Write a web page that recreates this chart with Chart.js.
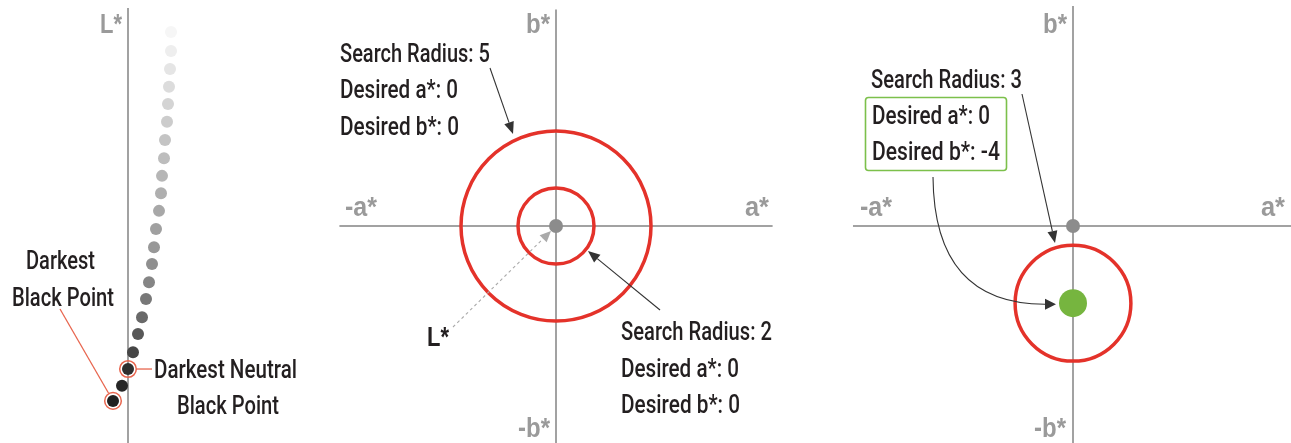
<!DOCTYPE html>
<html><head><meta charset="utf-8">
<script src="https://cdn.jsdelivr.net/npm/chart.js@4/dist/chart.umd.min.js"></script>
<style>html,body{margin:0;padding:0;background:#fff;overflow:hidden}canvas{display:block}</style>
</head><body>
<canvas id="c" width="1291" height="443"></canvas>
<script>
// ---------- DATA ----------
// Panel 1: L* ramp of black points (a* offset, L* value, gray level)
const rampA = [4.3, 4.3, 4.2, 4.1, 4.0, 3.9, 3.7, 3.6, 3.4, 3.3, 3.1, 2.8, 2.6, 2.4, 2.1, 1.8, 1.4, 1.0, 0.5, 0.0, -0.6, -1.5];
const rampL = [92.8, 88.5, 84.4, 80.4, 76.5, 72.5, 68.4, 64.3, 60.3, 56.4, 52.4, 48.3, 44.2, 40.4, 36.3, 32.5, 28.4, 24.6, 20.5, 16.7, 12.9, 9.5];
const rampGray = [246, 238, 229, 220, 212, 204, 196, 189, 182, 175, 168, 160, 152, 143, 133, 120, 105, 88, 70, 46, 38, 32];
const highlightIdx = [21, 19];           // darkest black point, darkest neutral black point
const lAxisMax = 98.2;
// Panel 2: two search radii around desired a*, b*
const p2Radius = [5, 2];
const p2DesiredA = [0, 0];
const p2DesiredB = [0, 0];
// Panel 3: one search radius around desired a*, b*
const p3Radius = [3];
const p3DesiredA = [0];
const p3DesiredB = [-4];
const abAxisLimit = 11.4;

// ---------- layout helpers (pixel placement of panels) ----------
const W = 1291, H = 443;
function range(originPx, ppu, size, invert) {
  return invert ? { min: -(size - originPx) / ppu, max: originPx / ppu }
                : { min: -originPx / ppu, max: (size - originPx) / ppu };
}
const xL = range(128, 10, W), yL = { min: 0, max: 100 };
const x2 = range(556, 19, W), y2 = range(226, 19, H, true);
const x3 = range(1073, 19.3, W), y3 = range(226, 19.3, H, true);

const AXIS = '#a2a2a2', RED = '#e4322a', RING = '#e8664f', TXT = '#231f20', LBL = '#9a9a9a';

function circleRadius(c) {
  if (!c.raw || c.raw.r === undefined) return 0;
  const s = c.chart.scales[c.dataset.xAxisID];
  return Math.abs(s.getPixelForValue(c.raw.r) - s.getPixelForValue(0));
}
function axisLine(data, xa, ya) {
  return { data, xAxisID: xa, yAxisID: ya, showLine: true, borderColor: AXIS, borderWidth: 2, pointRadius: 0 };
}

const datasets = [
  // rings around highlighted points
  { data: highlightIdx.map(i => ({ x: rampA[i], y: rampL[i] })), xAxisID: 'xL', yAxisID: 'yL',
    pointRadius: 8.3, pointBorderWidth: 1.5, pointBorderColor: RING, pointBackgroundColor: 'rgba(0,0,0,0)' },
  // ramp dots
  { data: rampA.map((a, i) => ({ x: a, y: rampL[i] })), xAxisID: 'xL', yAxisID: 'yL',
    pointRadius: 6, pointBorderWidth: 0,
    pointBackgroundColor: rampGray.map(g => `rgb(${g},${g},${g})`) },
  // panel 3 desired point
  { data: p3DesiredA.map((a, i) => ({ x: a, y: p3DesiredB[i] })), xAxisID: 'x3', yAxisID: 'y3',
    pointRadius: 14, pointBorderWidth: 0, pointBackgroundColor: '#76b53f' },
  // origin dots
  { data: [{ x: 0, y: 0 }], xAxisID: 'x2', yAxisID: 'y2', pointRadius: 7, pointBorderWidth: 0, pointBackgroundColor: '#8c8c8c' },
  { data: [{ x: 0, y: 0 }], xAxisID: 'x3', yAxisID: 'y3', pointRadius: 7, pointBorderWidth: 0, pointBackgroundColor: '#8c8c8c' },
  // search radius circles
  { data: p2Radius.map((r, i) => ({ x: p2DesiredA[i], y: p2DesiredB[i], r })), xAxisID: 'x2', yAxisID: 'y2',
    pointRadius: circleRadius, pointBorderWidth: 3.5, pointBorderColor: RED, pointBackgroundColor: 'rgba(0,0,0,0)' },
  { data: p3Radius.map((r, i) => ({ x: p3DesiredA[i], y: p3DesiredB[i], r })), xAxisID: 'x3', yAxisID: 'y3',
    pointRadius: circleRadius, pointBorderWidth: 3.5, pointBorderColor: RED, pointBackgroundColor: 'rgba(0,0,0,0)' },
  // axes
  axisLine([{ x: 0, y: 0 }, { x: 0, y: lAxisMax }], 'xL', 'yL'),
  axisLine([{ x: -abAxisLimit, y: 0 }, { x: abAxisLimit, y: 0 }], 'x2', 'y2'),
  axisLine([{ x: 0, y: -abAxisLimit - 1 }, { x: 0, y: abAxisLimit }], 'x2', 'y2'),
  axisLine([{ x: -abAxisLimit, y: 0 }, { x: abAxisLimit + 1, y: 0 }], 'x3', 'y3'),
  axisLine([{ x: 0, y: -abAxisLimit - 1 }, { x: 0, y: abAxisLimit }], 'x3', 'y3'),
];

// ---------- drawing helpers for annotations ----------
const FONT = 'Roboto, "Liberation Sans", sans-serif';
const BFONT = '"Liberation Sans Narrow", "Liberation Sans", sans-serif';
function txt(ctx, s, x, y, w, size, weight, color, fam) {
  ctx.save();
  ctx.font = `${weight} ${size}px ${fam || FONT}`;
  const m = ctx.measureText(s).width;
  ctx.translate(x, y);
  ctx.scale(w / m, 1);
  ctx.fillStyle = color; ctx.textAlign = 'left'; ctx.textBaseline = 'alphabetic';
  ctx.fillText(s, 0, 0);
  ctx.restore();
}
function head(ctx, bx, by, tx, ty, wid, color) {
  const ang = Math.atan2(ty - by, tx - bx), px = -Math.sin(ang) * wid / 2, py = Math.cos(ang) * wid / 2;
  ctx.fillStyle = color;
  ctx.beginPath(); ctx.moveTo(tx, ty); ctx.lineTo(bx + px, by + py); ctx.lineTo(bx - px, by - py); ctx.closePath(); ctx.fill();
}
function arrow(ctx, x1, y1, x2, y2, color, len, wid, dash) {
  const ang = Math.atan2(y2 - y1, x2 - x1), bx = x2 - len * Math.cos(ang), by = y2 - len * Math.sin(ang);
  ctx.save();
  ctx.strokeStyle = color; ctx.lineWidth = 1.1;
  if (dash) ctx.setLineDash(dash);
  ctx.beginPath(); ctx.moveTo(x1, y1); ctx.lineTo(bx, by); ctx.stroke();
  ctx.setLineDash([]);
  head(ctx, bx, by, x2, y2, wid, color);
  ctx.restore();
}

const TS = 26, TW = 500;
const annotations = {
  id: 'annotations',
  afterDatasetsDraw(chart) {
    const ctx = chart.ctx, s = chart.scales;
    // axis labels
    txt(ctx, 'L*', 100, 33, 22, 28, 'bold', LBL, BFONT);
    txt(ctx, 'b*', 526, 33, 24, 27, 'bold', LBL, BFONT);
    txt(ctx, '-a*', 345, 216, 32, 27, 'bold', LBL, BFONT);
    txt(ctx, 'a*', 745, 216, 24, 27, 'bold', LBL, BFONT);
    txt(ctx, '-b*', 518, 437, 32, 27, 'bold', LBL, BFONT);
    txt(ctx, 'b*', 1043, 33, 24, 27, 'bold', LBL, BFONT);
    txt(ctx, '-a*', 860, 216, 32, 27, 'bold', LBL, BFONT);
    txt(ctx, 'a*', 1261, 216, 24, 27, 'bold', LBL, BFONT);
    txt(ctx, '-b*', 1034, 437, 32, 27, 'bold', LBL, BFONT);

    // panel 1 labels and leaders
    txt(ctx, 'Darkest', 26, 269, 69, TS, TW, TXT);
    txt(ctx, 'Black Point', 12, 306, 102, TS, TW, TXT);
    txt(ctx, 'Darkest Neutral', 154, 378, 143, TS, TW, TXT);
    txt(ctx, 'Black Point', 177, 414, 102, TS, TW, TXT);
    const d0 = highlightIdx[0], d1 = highlightIdx[1];
    const p0x = s.xL.getPixelForValue(rampA[d0]), p0y = s.yL.getPixelForValue(rampL[d0]);
    const p1x = s.xL.getPixelForValue(rampA[d1]), p1y = s.yL.getPixelForValue(rampL[d1]);
    ctx.save();
    ctx.strokeStyle = RING; ctx.lineWidth = 1.3;
    const sx = 60, sy = 309, dd = Math.hypot(p0x - sx, p0y - sy), k = (dd - 8.8) / dd;
    ctx.beginPath(); ctx.moveTo(sx, sy); ctx.lineTo(sx + (p0x - sx) * k, sy + (p0y - sy) * k); ctx.stroke();
    ctx.beginPath(); ctx.moveTo(p1x + 8.8, p1y); ctx.lineTo(152, p1y); ctx.stroke();
    ctx.restore();

    // panel 2 texts
    txt(ctx, `Search Radius: ${p2Radius[0]}`, 340, 62, 150, TS, TW, TXT);
    txt(ctx, `Desired a*: ${p2DesiredA[0]}`, 340, 98, 118, TS, TW, TXT);
    txt(ctx, `Desired b*: ${p2DesiredB[0]}`, 340, 135, 119, TS, TW, TXT);
    txt(ctx, `Search Radius: ${p2Radius[1]}`, 621, 340, 151, TS, TW, TXT);
    txt(ctx, `Desired a*: ${p2DesiredA[1]}`, 621, 377, 118, TS, TW, TXT);
    txt(ctx, `Desired b*: ${p2DesiredB[1]}`, 621, 413, 119, TS, TW, TXT);
    txt(ctx, 'L*', 427, 346, 22, 28, 'bold', TXT, BFONT);
    arrow(ctx, 490, 68, 513, 134, '#333', 12, 10);
    arrow(ctx, 660, 310, 588, 251, '#333', 12, 10);
    arrow(ctx, 453, 327, 551, 231, '#aaaaaa', 11, 10, [3, 3]);

    // panel 3 texts
    txt(ctx, `Search Radius: ${p3Radius[0]}`, 871, 88, 151, TS, TW, TXT);
    txt(ctx, `Desired a*: ${p3DesiredA[0]}`, 872, 124, 118, TS, TW, TXT);
    txt(ctx, `Desired b*: ${p3DesiredB[0]}`, 872, 160, 128, TS, TW, TXT);
    ctx.save();
    ctx.strokeStyle = '#7cc04b'; ctx.lineWidth = 1.6;
    ctx.beginPath();
    if (ctx.roundRect) ctx.roundRect(865.5, 97.5, 141, 73, 3); else ctx.rect(865.5, 97.5, 141, 73);
    ctx.stroke();
    ctx.restore();
    arrow(ctx, 1022, 94, 1055, 243, '#333', 12, 10);
    // curved arrow to the desired point
    const gx = s.x3.getPixelForValue(p3DesiredA[0]), gy = s.y3.getPixelForValue(p3DesiredB[0]);
    const tipX = gx - 17, baseX = tipX - 11;
    ctx.save();
    ctx.strokeStyle = '#333'; ctx.lineWidth = 1.1;
    ctx.beginPath(); ctx.moveTo(933, 177); ctx.quadraticCurveTo(934, gy + 1, baseX, gy + 1); ctx.stroke();
    head(ctx, baseX, gy + 1, tipX, gy + 1, 11, '#333');
    ctx.restore();
  }
};

new Chart(document.getElementById('c'), {
  type: 'scatter',
  data: { datasets },
  options: {
    responsive: false, animation: false, events: [],
    layout: { padding: 0, autoPadding: false },
    plugins: { legend: { display: false }, tooltip: { enabled: false } },
    scales: {
      xL: { type: 'linear', display: false, ...xL },
      yL: { type: 'linear', display: false, ...yL },
      x2: { type: 'linear', display: false, ...x2 },
      y2: { type: 'linear', display: false, ...y2 },
      x3: { type: 'linear', display: false, ...x3 },
      y3: { type: 'linear', display: false, ...y3 },
    }
  },
  plugins: [annotations]
});
</script>
</body></html>
